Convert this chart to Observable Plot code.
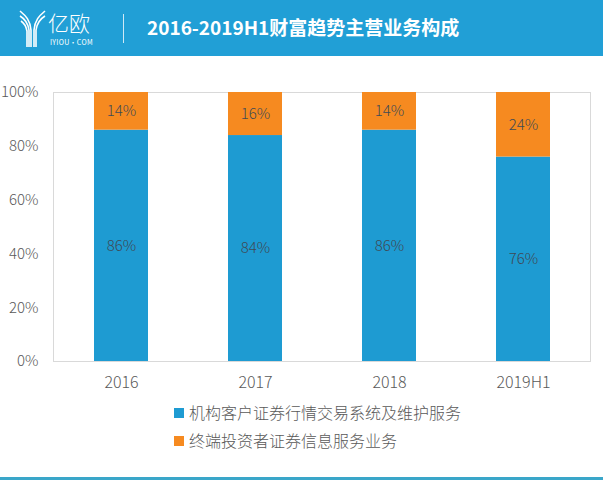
<!DOCTYPE html>
<html><head><meta charset="utf-8">
<script src="https://cdn.jsdelivr.net/npm/d3@7"></script>
<script src="https://cdn.jsdelivr.net/npm/@observablehq/plot@0.6"></script>
<style>
body{margin:0;background:#fff;font-family:"Noto Sans CJK SC","Noto Sans",sans-serif;width:603px;height:480px;position:relative;overflow:hidden}
#hdr{position:absolute;left:0;top:0;width:603px;height:56px;background:#219fd6;color:#fff}
#chart{position:absolute;left:0;top:56px}
#legend{position:absolute;left:0;top:398px;width:603px}
.li{position:absolute;left:174px;font-size:16px;color:#595959;font-weight:300;white-space:nowrap;line-height:20px}
.sw{display:inline-block;width:10px;height:10px;margin-right:5px;vertical-align:1px}
#bline{position:absolute;left:0;top:477px;width:603px;height:3px;background:#3aa6c9}
</style></head><body>
<div id="hdr">
  <svg style="position:absolute;left:18px;top:8px" width="30" height="40" viewBox="0 0 30 40" fill="none" stroke="#fff" stroke-width="1.6">
    <path d="M2 3 C8 8 12 12 13 22 L13 39"/>
    <path d="M2 8 C7 11 10 15 11 22 L11 39"/>
    <path d="M3 13 C6 15 8 18 9 23 L9 39"/>
    <path d="M27 3 C21 8 17 12 16 22 L16 39"/>
    <path d="M27 8 C22 11 19 15 18 22 L18 39"/>
  </svg>
  <div style="position:absolute;left:48px;top:8px;font-size:21px;font-weight:300;line-height:28px">亿欧</div>
  <div style="position:absolute;left:50px;top:38px;font-size:7px;line-height:9px;letter-spacing:0.3px">IYIOU·COM</div>
  <div style="position:absolute;left:123px;top:14px;width:1px;height:29px;background:#cfe9f6"></div>
  <div style="position:absolute;left:147px;top:13px;font-size:19px;font-weight:700;line-height:28px">2016-2019H1财富趋势主营业务构成</div>
</div>
<div id="chart"></div>
<div id="legend"></div>
<div id="bline"></div>
<script>
const years = ["2016","2017","2018","2019H1"];
const seriesNames = ["机构客户证券行情交易系统及维护服务","终端投资者证券信息服务业务"];
const institutional = [86,84,86,76];
const terminal = [14,16,14,24];
const colors = ["#1e9bd2","#f68a20"];
const yTicks = [0,20,40,60,80,100];

const rows = [];
years.forEach((y,i)=>{
  rows.push({year:y, series:seriesNames[0], value:institutional[i], mid:institutional[i]/2});
  rows.push({year:y, series:seriesNames[1], value:terminal[i], mid:institutional[i]+terminal[i]/2});
});

const plot = Plot.plot({
  width:603, height:340,
  marginTop:36, marginBottom:35, marginLeft:53, marginRight:13,
  style:{fontFamily:"'Noto Sans CJK SC','Noto Sans',sans-serif", fontSize:"15px", color:"#595959", background:"transparent"},
  x:{domain:years, paddingInner:0.6, paddingOuter:0.3, label:null, tickSize:0, tickPadding:15},
  y:{domain:[0,100], label:null, ticks:yTicks, tickFormat:d=>d+"%", tickSize:0, tickPadding:15},
  color:{domain:seriesNames, range:colors},
  marks:[
    Plot.frame({stroke:"#d9d9d9"}),
    Plot.barY(rows, Plot.stackY({x:"year", y:"value", fill:"series", order:seriesNames})),
    Plot.text(rows, {x:"year", y:"mid", text:d=>d.value+"%", fill:"#3f4a55", fontSize:15, fontWeight:300})
  ]
});
plot.querySelectorAll("[aria-label='x-axis tick label'] text, [aria-label='y-axis tick label'] text").forEach(t=>t.setAttribute("font-weight","300"));
plot.querySelectorAll("[aria-label='x-axis tick label'] text").forEach(t=>t.setAttribute("font-size","16"));
document.getElementById("chart").appendChild(plot);

const lg = document.getElementById("legend");
seriesNames.forEach((n,i)=>{
  const d = document.createElement("div");
  d.className="li"; d.style.top=(4+i*28)+"px";
  d.innerHTML = `<span class="sw" style="background:${colors[i]}"></span>${n}`;
  lg.appendChild(d);
});
</script>
</body></html>
